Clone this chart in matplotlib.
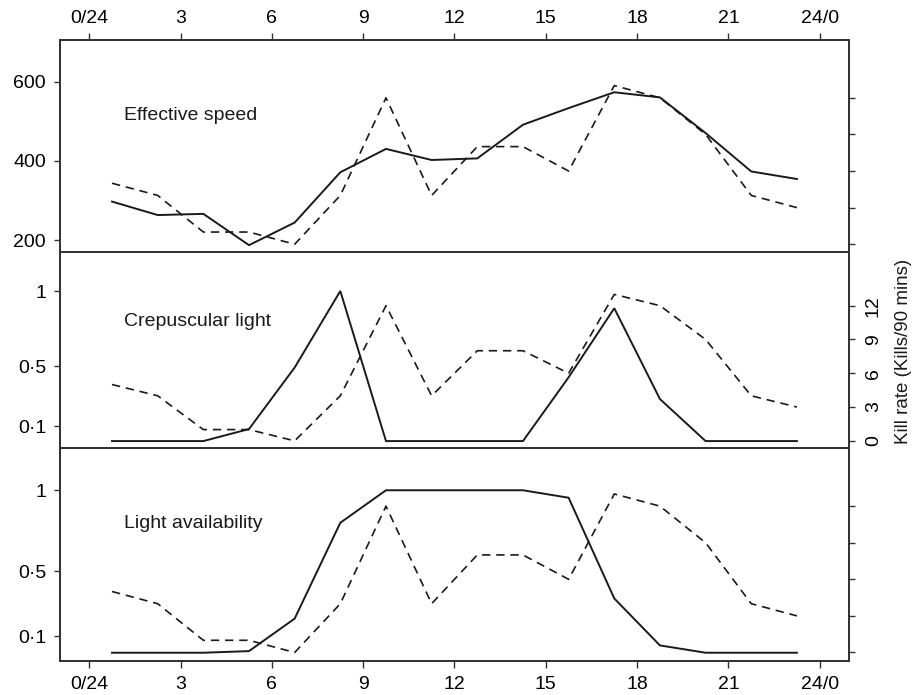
from __future__ import annotations

import matplotlib

matplotlib.use("Agg")
import matplotlib.pyplot as plt
import numpy as np

plt.rcParams["font.family"] = ["Liberation Sans", "DejaVu Sans"]

# 90-minute bins, plotted at bin centres (hours)
hours = [0.75, 2.25, 3.75, 5.25, 6.75, 8.25, 9.75, 11.25,
         12.75, 14.25, 15.75, 17.25, 18.75, 20.25, 21.75, 23.25]
kill_rate = [5, 4, 1, 1, 0, 4, 12, 4, 8, 8, 6, 13, 12, 9, 4, 3]
effective_speed = [297, 263, 266, 187, 244, 371, 430, 402,
                   406, 491, 533, 573, 560, 470, 373, 354]
crepuscular_light = [0, 0, 0, 0.08, 0.49, 1.0, 0, 0,
                     0, 0, 0.425, 0.885, 0.28, 0, 0, 0]
light_availability = [0, 0, 0, 0.01, 0.21, 0.80, 1.0, 1.0,
                      1.0, 1.0, 0.954, 0.334, 0.045, 0, 0, 0]

hour_ticks = [0, 3, 6, 9, 12, 15, 18, 21, 24]
hour_labels = ["0/24", "3", "6", "9", "12", "15", "18", "21", "24/0"]
speed_ticks = [200, 400, 600]
light_ticks = [0.1, 0.5, 1.0]
light_labels = ["0\u00b71", "0\u00b75", "1"]
kill_ticks = [0, 3, 6, 9, 12]

FRAME = "#333333"
INK = "#1a1a1a"
FS = 14


def style_axes(ax, ax_r):
    for a in (ax, ax_r):
        for sp in a.spines.values():
            sp.set_color(FRAME)
            sp.set_linewidth(1.3)
    ax.set_xlim(-0.96, 24.96)
    ax.tick_params(axis="y", direction="out", length=4, width=1, color=FRAME,
                   pad=6, labelsize=FS)
    ax.tick_params(axis="x", direction="out", length=5, width=1, color=FRAME,
                   pad=4, labelsize=FS)
    ax_r.set_ylim(-0.66, 16.74)
    ax_r.set_yticks(kill_ticks)
    ax_r.tick_params(axis="y", direction="out", length=4.5, width=1,
                     color=FRAME, pad=7, labelsize=FS)


def draw_panel(fig, rect, values, ylim, yticks, ylabels, label):
    ax = fig.add_axes(rect)
    ax_r = ax.twinx()
    style_axes(ax, ax_r)
    ax.plot(hours, values, color=INK, lw=1.4, solid_joinstyle="miter")
    ax_r.plot(hours, kill_rate, color=INK, lw=1.2, dashes=(5, 3.5))
    ax.set_ylim(*ylim)
    ax.set_yticks(yticks)
    ax.set_yticklabels(ylabels)
    ax.text(0.081, 0.645, label, transform=ax.transAxes, fontsize=FS,
            ha="left", va="center", color=INK)
    ax.set_xticks(hour_ticks)
    return ax, ax_r


def main() -> None:
    fig = plt.figure(figsize=(9.24, 6.95), dpi=100)
    left, width = 0.0649, 0.8539

    top, top_r = draw_panel(fig, [left, 0.637, width, 0.3055], effective_speed,
                            (169, 705), speed_ticks,
                            [str(t) for t in speed_ticks], "Effective speed")
    top.xaxis.tick_top()
    top.set_xticklabels(hour_labels)
    top_r.set_yticklabels([])

    mid, mid_r = draw_panel(fig, [left, 0.355, width, 0.282], crepuscular_light,
                            (-0.048, 1.258), light_ticks, light_labels,
                            "Crepuscular light")
    mid.tick_params(axis="x", bottom=False, labelbottom=False)
    mid_r.set_yticklabels([str(t) for t in kill_ticks], rotation=90,
                          va="center")
    fig.text(0.978, 0.495, "Kill rate (Kills/90 mins)", fontsize=13.5,
             rotation=90, ha="center", va="center", color=INK)

    bot, bot_r = draw_panel(fig, [left, 0.0496, width, 0.3053],
                            light_availability, (-0.048, 1.258), light_ticks,
                            light_labels, "Light availability")
    bot.set_xticklabels(hour_labels)
    bot.tick_params(axis="x", pad=6)
    bot_r.set_yticklabels([])

    fig.savefig("out.png", dpi=100)
    plt.close(fig)


if __name__ == "__main__":
    main()
